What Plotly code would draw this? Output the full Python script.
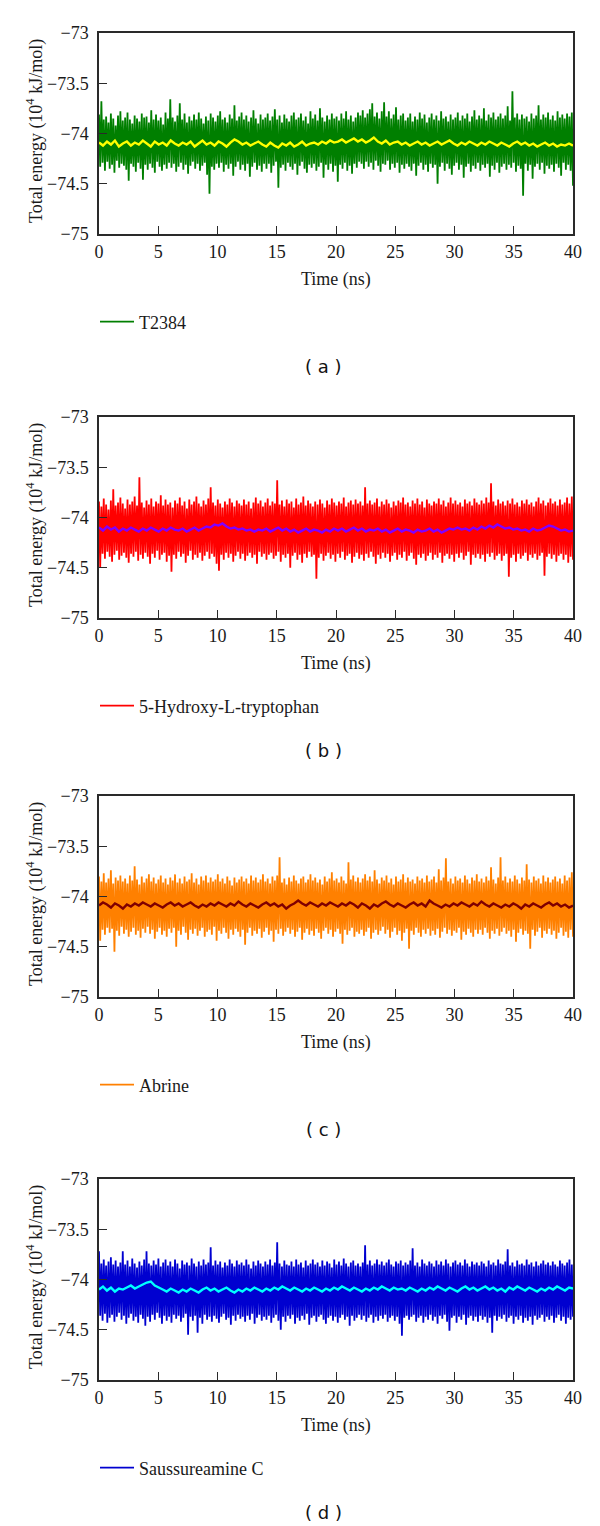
import numpy as np
import plotly.graph_objects as go

# ---------------- data (total energy, 10^4 kJ/mol) ----------------
panel_labels = ["( a )", "( b )", "( c )", "( d )"]
series_names = ["T2384", "5-Hydroxy-L-tryptophan", "Abrine", "Saussureamine C"]
raw_colors = ["#007f00", "#ff0000", "#ff8000", "#0000d0"]
mean_colors = ["#ffff00", "#8000ff", "#800000", "#00ffff"]

y_ticks = [-75, -74.5, -74, -73.5, -73]
y_ticktext = ["\u221275", "\u221274.5", "\u221274", "\u221273.5", "\u221273"]
x_ticks = [0, 5, 10, 15, 20, 25, 30, 35, 40]
x_ticktext = ["0", "5", "10", "15", "20", "25", "30", "35", "40"]

t2384_raw = [
    -73.81, -74.33, -73.68, -74.29, -73.86, -74.37, -73.83, -74.28, -73.89, -74.35, -73.80, -74.31, -73.85, -74.39, -73.92, -74.27, -73.82, -74.34, -73.78, -74.30,
    -73.87, -74.32, -73.84, -74.36, -73.79, -74.47, -73.86, -74.30, -73.90, -74.33, -73.82, -74.38, -73.85, -74.29, -73.88, -74.35, -73.80, -74.46, -73.84, -74.31,
    -73.83, -74.36, -73.89, -74.30, -73.77, -74.34, -73.86, -74.39, -73.81, -74.28, -73.87, -74.33, -73.84, -74.37, -73.91, -74.31, -73.79, -74.35, -73.85, -74.29,
    -73.66, -74.34, -73.84, -74.30, -73.88, -74.38, -73.82, -74.33, -73.70, -74.29, -73.86, -74.36, -73.80, -74.31, -73.89, -74.40, -73.83, -74.32, -73.87, -74.28,
    -73.81, -74.35, -73.86, -74.30, -73.79, -74.37, -73.85, -74.32, -73.90, -74.29, -73.83, -74.41, -73.87, -74.60, -73.80, -74.33, -73.84, -74.36, -73.88, -74.30,
    -73.82, -74.34, -73.78, -74.29, -73.86, -74.38, -73.84, -74.31, -73.89, -74.35, -73.81, -74.30, -73.85, -74.42, -73.72, -74.33, -73.87, -74.28, -73.83, -74.36,
    -73.79, -74.31, -73.86, -74.37, -73.82, -74.30, -73.88, -74.43, -73.84, -74.33, -73.77, -74.29, -73.85, -74.36, -73.90, -74.32, -73.81, -74.38, -73.86, -74.30,
    -73.84, -74.35, -73.80, -74.30, -73.87, -74.39, -73.83, -74.32, -73.76, -74.28, -73.86, -74.54, -73.82, -74.34, -73.89, -74.31, -73.81, -74.37, -73.85, -74.29,
    -73.88, -74.33, -73.82, -74.36, -73.79, -74.30, -73.86, -74.41, -73.84, -74.32, -73.80, -74.28, -73.87, -74.35, -73.83, -74.39, -73.90, -74.31, -73.78, -74.34,
    -73.85, -74.30, -73.81, -74.37, -73.87, -74.33, -73.75, -74.29, -73.84, -74.44, -73.88, -74.31, -73.82, -74.36, -73.86, -74.30, -73.80, -74.38, -73.85, -74.32,
    -73.83, -74.48, -73.87, -74.31, -73.80, -74.35, -73.85, -74.29, -73.78, -74.37, -73.86, -74.32, -73.82, -74.40, -73.88, -74.30, -73.84, -74.34, -73.79, -74.28,
    -73.82, -74.30, -73.77, -74.35, -73.84, -74.28, -73.80, -74.33, -73.76, -74.29, -73.70, -74.36, -73.83, -74.27, -73.79, -74.32, -73.85, -74.38, -73.78, -74.30,
    -73.69, -74.31, -73.83, -74.27, -73.78, -74.36, -73.85, -74.30, -73.81, -74.34, -73.74, -74.29, -73.86, -74.39, -73.82, -74.31, -73.80, -74.35, -73.87, -74.30,
    -73.84, -74.33, -73.80, -74.37, -73.88, -74.30, -73.83, -74.42, -73.86, -74.32, -73.79, -74.29, -73.85, -74.36, -73.81, -74.31, -73.89, -74.38, -73.84, -74.30,
    -73.80, -74.34, -73.86, -74.31, -73.82, -74.50, -73.87, -74.33, -73.78, -74.29, -73.85, -74.37, -73.83, -74.30, -73.88, -74.35, -73.81, -74.41, -73.86, -74.32,
    -73.84, -74.29, -73.79, -74.36, -73.87, -74.31, -73.82, -74.44, -73.85, -74.33, -73.80, -74.30, -73.88, -74.38, -73.83, -74.32, -73.77, -74.35, -73.86, -74.29,
    -73.82, -74.37, -73.85, -74.31, -73.75, -74.34, -73.87, -74.30, -73.81, -74.43, -73.84, -74.32, -73.79, -74.36, -73.86, -74.29, -73.83, -74.39, -73.80, -74.33,
    -73.85, -74.30, -73.82, -74.36, -73.73, -74.31, -73.87, -74.34, -73.58, -74.29, -73.84, -74.38, -73.80, -74.32, -73.86, -74.35, -73.81, -74.62, -73.85, -74.30,
    -73.83, -74.37, -73.88, -74.31, -73.80, -74.45, -73.85, -74.33, -73.82, -74.30, -73.72, -74.36, -73.86, -74.29, -73.81, -74.40, -73.84, -74.32, -73.79, -74.35,
    -73.86, -74.31, -73.82, -74.38, -73.87, -74.30, -73.78, -74.34, -73.84, -74.42, -73.81, -74.29, -73.85, -74.36, -73.80, -74.31, -73.83, -74.37, -73.79, -74.52,
]
t2384_avg = [
    -74.09, -74.12, -74.08, -74.11, -74.07, -74.13, -74.10, -74.08, -74.12, -74.09, -74.11, -74.07, -74.10, -74.13, -74.08, -74.11, -74.09, -74.12, -74.07, -74.10,
    -74.12, -74.09, -74.11, -74.08, -74.13, -74.10, -74.07, -74.11, -74.09, -74.12, -74.08, -74.10, -74.13, -74.09, -74.06, -74.08, -74.11, -74.09, -74.12, -74.10,
    -74.08, -74.11, -74.13, -74.09, -74.12, -74.14, -74.10, -74.12, -74.09, -74.13, -74.11, -74.08, -74.12, -74.10, -74.09, -74.11, -74.08, -74.10, -74.07, -74.09,
    -74.08, -74.06, -74.09, -74.07, -74.05, -74.08, -74.06, -74.09, -74.07, -74.04, -74.08, -74.10, -74.07, -74.11, -74.09, -74.08, -74.11, -74.09, -74.12, -74.10,
    -74.08, -74.11, -74.09, -74.12, -74.10, -74.08, -74.11, -74.09, -74.07, -74.10, -74.12, -74.09, -74.11, -74.08, -74.10, -74.12, -74.09, -74.11, -74.08, -74.10,
    -74.12, -74.09, -74.11, -74.13, -74.10, -74.08, -74.11, -74.09, -74.12, -74.10, -74.13, -74.11, -74.09, -74.12, -74.10, -74.13, -74.11, -74.12, -74.10, -74.12,
]

htp_raw = [
    -73.84, -74.50, -73.89, -74.36, -73.81, -74.41, -73.87, -74.34, -73.92, -74.39, -73.83, -74.44, -73.72, -74.37, -73.88, -74.33, -73.85, -74.42, -73.80, -74.38,
    -73.86, -74.35, -73.91, -74.40, -73.82, -74.45, -73.87, -74.36, -73.84, -74.39, -73.79, -74.34, -73.88, -74.43, -73.60, -74.37, -73.85, -74.41, -73.90, -74.35,
    -73.83, -74.39, -73.87, -74.46, -73.81, -74.36, -73.89, -74.40, -73.84, -74.33, -73.86, -74.42, -73.78, -74.37, -73.88, -74.35, -73.82, -74.44, -73.87, -74.38,
    -73.85, -74.54, -73.90, -74.37, -73.83, -74.41, -73.86, -74.34, -73.80, -74.39, -73.88, -74.36, -73.84, -74.45, -73.91, -74.38, -73.82, -74.33, -73.87, -74.42,
    -73.84, -74.37, -73.79, -74.40, -73.86, -74.35, -73.89, -74.43, -73.83, -74.38, -73.87, -74.34, -73.81, -74.41, -73.70, -74.36, -73.85, -74.39, -73.88, -74.46,
    -73.82, -74.53, -73.86, -74.37, -73.90, -74.42, -73.84, -74.35, -73.87, -74.40, -73.81, -74.36, -73.85, -74.44, -73.89, -74.38, -73.83, -74.34, -73.86, -74.41,
    -73.88, -74.36, -73.82, -74.43, -73.87, -74.38, -73.84, -74.35, -73.91, -74.40, -73.85, -74.37, -73.80, -74.46, -73.86, -74.34, -73.83, -74.39, -73.89, -74.36,
    -73.85, -74.42, -73.81, -74.37, -73.88, -74.35, -73.84, -74.41, -73.86, -74.38, -73.63, -74.34, -73.87, -74.44, -73.83, -74.37, -73.89, -74.40, -73.82, -74.36,
    -73.86, -74.50, -73.84, -74.38, -73.90, -74.35, -73.81, -74.42, -73.87, -74.37, -73.85, -74.45, -73.79, -74.36, -73.88, -74.40, -73.83, -74.34, -73.86, -74.39,
    -73.89, -74.37, -73.84, -74.61, -73.87, -74.40, -73.82, -74.36, -73.86, -74.43, -73.90, -74.38, -73.83, -74.35, -73.87, -74.41, -73.81, -74.37, -73.85, -74.44,
    -73.88, -74.36, -73.84, -74.40, -73.86, -74.34, -73.80, -74.42, -73.89, -74.38, -73.85, -74.36, -73.83, -74.45, -73.87, -74.39, -73.82, -74.35, -73.86, -74.41,
    -73.84, -74.37, -73.88, -74.43, -73.70, -74.36, -73.86, -74.40, -73.83, -74.34, -73.87, -74.39, -73.85, -74.46, -73.81, -74.37, -73.89, -74.41, -73.84, -74.35,
    -73.87, -74.40, -73.82, -74.36, -73.86, -74.44, -73.90, -74.38, -73.84, -74.35, -73.88, -74.42, -73.83, -74.37, -73.85, -74.40, -73.80, -74.34, -73.87, -74.43,
    -73.85, -74.38, -73.89, -74.35, -73.83, -74.41, -73.86, -74.47, -73.81, -74.37, -73.87, -74.40, -73.84, -74.36, -73.90, -74.43, -73.82, -74.38, -73.86, -74.35,
    -73.88, -74.42, -73.84, -74.37, -73.86, -74.40, -73.81, -74.35, -73.87, -74.45, -73.83, -74.38, -73.89, -74.36, -73.85, -74.41, -73.80, -74.37, -73.86, -74.44,
    -73.83, -74.36, -73.87, -74.40, -73.85, -74.35, -73.89, -74.42, -73.82, -74.38, -73.86, -74.34, -73.84, -74.47, -73.88, -74.37, -73.81, -74.40, -73.85, -74.36,
    -73.87, -74.41, -73.83, -74.37, -73.86, -74.44, -73.80, -74.36, -73.85, -74.39, -73.66, -74.35, -73.84, -74.42, -73.88, -74.38, -73.82, -74.36, -73.86, -74.43,
    -73.84, -74.38, -73.88, -74.36, -73.83, -74.59, -73.86, -74.40, -73.81, -74.37, -73.87, -74.44, -73.85, -74.36, -73.89, -74.41, -73.83, -74.38, -73.86, -74.35,
    -73.82, -74.43, -73.87, -74.37, -73.85, -74.40, -73.89, -74.36, -73.84, -74.42, -73.80, -74.38, -73.86, -74.35, -73.83, -74.58, -73.88, -74.39, -73.85, -74.36,
    -73.81, -74.41, -73.86, -74.37, -73.84, -74.44, -73.88, -74.38, -73.82, -74.36, -73.87, -74.42, -73.85, -74.37, -73.80, -74.45, -73.86, -74.39, -73.79, -74.42,
]
htp_avg = [
    -74.10, -74.13, -74.09, -74.12, -74.10, -74.14, -74.11, -74.13, -74.10, -74.12, -74.14, -74.11, -74.13, -74.10, -74.12, -74.14, -74.11, -74.13, -74.10, -74.12,
    -74.13, -74.11, -74.14, -74.12, -74.10, -74.13, -74.11, -74.09, -74.10, -74.07, -74.08, -74.06, -74.09, -74.11, -74.10, -74.12, -74.11, -74.13, -74.12, -74.14,
    -74.12, -74.13, -74.11, -74.14, -74.12, -74.10, -74.13, -74.11, -74.14, -74.12, -74.15, -74.13, -74.11, -74.14, -74.12, -74.13, -74.15, -74.12, -74.14, -74.11,
    -74.13, -74.11, -74.14, -74.12, -74.10, -74.13, -74.11, -74.14, -74.12, -74.13, -74.11, -74.14, -74.12, -74.15, -74.13, -74.11, -74.14, -74.12, -74.13, -74.15,
    -74.12, -74.14, -74.13, -74.11, -74.14, -74.12, -74.15, -74.13, -74.11, -74.12, -74.10, -74.12, -74.11, -74.13, -74.10, -74.12, -74.09, -74.11, -74.08, -74.10,
    -74.07, -74.09, -74.11, -74.10, -74.12, -74.11, -74.13, -74.12, -74.14, -74.11, -74.13, -74.12, -74.10, -74.08, -74.09, -74.11, -74.13, -74.12, -74.14, -74.13,
]

abrine_raw = [
    -73.80, -74.44, -73.85, -74.33, -73.77, -74.38, -73.86, -74.31, -73.82, -74.36, -73.74, -74.32, -73.87, -74.55, -73.81, -74.34, -73.84, -74.39, -73.79, -74.30,
    -73.85, -74.37, -73.82, -74.33, -73.87, -74.40, -73.79, -74.35, -73.84, -74.31, -73.70, -74.38, -73.83, -74.34, -73.88, -74.41, -73.80, -74.32, -73.86, -74.36,
    -73.82, -74.30, -73.78, -74.37, -73.85, -74.33, -73.81, -74.42, -73.87, -74.35, -73.83, -74.31, -73.79, -74.38, -73.86, -74.34, -73.82, -74.40, -73.88, -74.32,
    -73.81, -74.36, -73.84, -74.31, -73.78, -74.50, -73.86, -74.34, -73.82, -74.38, -73.87, -74.30, -73.80, -74.36, -73.85, -74.43, -73.83, -74.33, -73.77, -74.37,
    -73.86, -74.32, -73.82, -74.39, -73.88, -74.34, -73.80, -74.31, -73.84, -74.40, -73.79, -74.35, -73.86, -74.33, -73.81, -74.38, -73.85, -74.30, -73.83, -74.44,
    -73.78, -74.34, -73.85, -74.37, -73.82, -74.31, -73.87, -74.36, -73.80, -74.42, -73.84, -74.33, -73.89, -74.38, -73.81, -74.32, -73.86, -74.35, -73.83, -74.40,
    -73.80, -74.33, -73.85, -74.48, -73.82, -74.36, -73.87, -74.31, -73.79, -74.39, -73.84, -74.34, -73.81, -74.37, -73.86, -74.32, -73.83, -74.41, -73.78, -74.35,
    -73.85, -74.31, -73.82, -74.38, -73.87, -74.34, -73.80, -74.45, -73.84, -74.33, -73.79, -74.37, -73.61, -74.32, -73.86, -74.39, -73.82, -74.35, -73.88, -74.31,
    -73.81, -74.37, -73.85, -74.33, -73.79, -74.40, -73.84, -74.35, -73.87, -74.31, -73.82, -74.43, -73.80, -74.36, -73.86, -74.32, -73.83, -74.38, -73.78, -74.34,
    -73.84, -74.39, -73.81, -74.32, -73.86, -74.36, -73.83, -74.42, -73.88, -74.34, -73.80, -74.31, -73.85, -74.37, -73.82, -74.33, -73.76, -74.40, -73.84, -74.35,
    -73.82, -74.32, -73.86, -74.37, -73.80, -74.47, -73.84, -74.33, -73.87, -74.38, -73.66, -74.34, -73.83, -74.31, -73.79, -74.40, -73.85, -74.35, -73.81, -74.37,
    -73.86, -74.33, -73.82, -74.39, -73.78, -74.35, -73.84, -74.31, -73.80, -74.42, -73.85, -74.36, -73.74, -74.33, -73.83, -74.38, -73.87, -74.34, -73.81, -74.30,
    -73.84, -74.37, -73.79, -74.33, -73.86, -74.41, -73.82, -74.35, -73.88, -74.31, -73.80, -74.38, -73.85, -74.34, -73.83, -74.44, -73.78, -74.36, -73.86, -74.32,
    -73.81, -74.52, -73.85, -74.34, -73.83, -74.38, -73.87, -74.31, -73.80, -74.36, -73.84, -74.40, -73.82, -74.33, -73.86, -74.37, -73.79, -74.32, -73.85, -74.39,
    -73.83, -74.34, -73.80, -74.38, -73.86, -74.32, -73.73, -74.41, -73.84, -74.35, -73.81, -74.31, -73.62, -74.37, -73.85, -74.33, -73.82, -74.39, -73.87, -74.34,
    -73.80, -74.36, -73.84, -74.31, -73.82, -74.43, -73.86, -74.35, -73.79, -74.38, -73.83, -74.32, -73.87, -74.36, -73.81, -74.40, -73.84, -74.33, -73.78, -74.37,
    -73.85, -74.33, -73.82, -74.38, -73.86, -74.31, -73.80, -74.36, -73.84, -74.42, -73.71, -74.34, -73.83, -74.37, -73.87, -74.32, -73.81, -74.39, -73.61, -74.35,
    -73.84, -74.31, -73.80, -74.37, -73.86, -74.34, -73.82, -74.40, -73.85, -74.33, -73.79, -74.45, -73.83, -74.36, -73.87, -74.32, -73.81, -74.38, -73.84, -74.34,
    -73.68, -74.37, -73.83, -74.52, -73.86, -74.33, -73.80, -74.39, -73.84, -74.35, -73.82, -74.31, -73.87, -74.41, -73.79, -74.34, -73.85, -74.37, -73.81, -74.32,
    -73.86, -74.38, -73.83, -74.34, -73.80, -74.42, -73.85, -74.36, -73.82, -74.31, -73.87, -74.39, -73.79, -74.35, -73.84, -74.41, -73.81, -74.33, -73.76, -74.40,
]
abrine_avg = [
    -74.09, -74.06, -74.08, -74.11, -74.07, -74.09, -74.12, -74.08, -74.10, -74.07, -74.09, -74.06, -74.08, -74.10, -74.07, -74.09, -74.11, -74.08, -74.06, -74.09,
    -74.07, -74.10, -74.08, -74.06, -74.09, -74.11, -74.08, -74.10, -74.07, -74.09, -74.06, -74.08, -74.10, -74.07, -74.09, -74.05, -74.08, -74.10, -74.07, -74.09,
    -74.11, -74.08, -74.06, -74.09, -74.07, -74.10, -74.08, -74.12, -74.09, -74.07, -74.04, -74.07, -74.09, -74.06, -74.08, -74.10, -74.07, -74.09, -74.06, -74.08,
    -74.10, -74.07, -74.09, -74.06, -74.08, -74.11, -74.07, -74.09, -74.12, -74.08, -74.10, -74.07, -74.05, -74.08, -74.10, -74.07, -74.09, -74.11, -74.08, -74.06,
    -74.09, -74.07, -74.10, -74.04, -74.07, -74.09, -74.11, -74.08, -74.10, -74.07, -74.09, -74.06, -74.08, -74.10, -74.07, -74.09, -74.05, -74.08, -74.10, -74.07,
    -74.09, -74.11, -74.08, -74.10, -74.07, -74.09, -74.12, -74.08, -74.10, -74.07, -74.09, -74.11, -74.08, -74.06, -74.09, -74.07, -74.10, -74.08, -74.11, -74.09,
]

saussureamine_raw = [
    -73.72, -74.36, -73.84, -74.41, -73.80, -74.34, -73.86, -74.43, -73.82, -74.38, -73.78, -74.35, -73.85, -74.42, -73.81, -74.37, -73.87, -74.33, -73.83, -74.40,
    -73.72, -74.36, -73.85, -74.44, -73.81, -74.38, -73.87, -74.34, -73.79, -74.41, -73.84, -74.37, -73.88, -74.43, -73.82, -74.35, -73.86, -74.39, -73.80, -74.46,
    -73.72, -74.37, -73.84, -74.42, -73.86, -74.35, -73.81, -74.40, -73.85, -74.33, -73.79, -74.38, -73.87, -74.44, -73.83, -74.36, -73.80, -74.41, -73.86, -74.37,
    -73.82, -74.43, -73.87, -74.35, -73.80, -74.39, -73.84, -74.36, -73.89, -74.42, -73.81, -74.38, -73.85, -74.34, -73.83, -74.55, -73.86, -74.37, -73.79, -74.41,
    -73.84, -74.36, -73.87, -74.53, -73.82, -74.38, -73.86, -74.44, -73.80, -74.35, -73.85, -74.40, -73.83, -74.37, -73.68, -74.42, -73.86, -74.36, -73.81, -74.39,
    -73.85, -74.43, -73.82, -74.37, -73.88, -74.34, -73.83, -74.40, -73.86, -74.38, -73.80, -74.45, -73.84, -74.36, -73.87, -74.41, -73.81, -74.35, -73.85, -74.39,
    -73.83, -74.37, -73.86, -74.42, -73.80, -74.36, -73.85, -74.40, -73.89, -74.34, -73.82, -74.44, -73.86, -74.38, -73.81, -74.35, -73.84, -74.41, -73.87, -74.37,
    -73.82, -74.40, -73.85, -74.36, -73.80, -74.43, -73.86, -74.38, -73.83, -74.35, -73.63, -74.41, -73.84, -74.50, -73.87, -74.37, -73.81, -74.42, -73.85, -74.36,
    -73.86, -74.39, -73.82, -74.35, -73.87, -74.44, -73.80, -74.38, -73.85, -74.41, -73.83, -74.36, -73.88, -74.40, -73.81, -74.34, -73.86, -74.45, -73.84, -74.38,
    -73.80, -74.36, -73.85, -74.42, -73.83, -74.37, -73.87, -74.35, -73.81, -74.40, -73.86, -74.44, -73.82, -74.38, -73.84, -74.36, -73.88, -74.41, -73.80, -74.37,
    -73.85, -74.43, -73.82, -74.38, -73.86, -74.35, -73.79, -74.40, -73.84, -74.37, -73.87, -74.46, -73.83, -74.36, -73.81, -74.41, -73.86, -74.38, -73.84, -74.35,
    -73.87, -74.40, -73.83, -74.36, -73.66, -74.42, -73.85, -74.38, -73.81, -74.35, -73.86, -74.43, -73.84, -74.37, -73.80, -74.41, -73.85, -74.36, -73.82, -74.39,
    -73.86, -74.35, -73.83, -74.42, -73.80, -74.38, -73.85, -74.36, -73.87, -74.41, -73.82, -74.37, -73.84, -74.44, -73.81, -74.56, -73.86, -74.38, -73.83, -74.36,
    -73.85, -74.40, -73.81, -74.37, -73.69, -74.35, -73.86, -74.42, -73.83, -74.38, -73.87, -74.36, -73.80, -74.43, -73.84, -74.37, -73.86, -74.40, -73.82, -74.35,
    -73.84, -74.41, -73.87, -74.37, -73.81, -74.44, -73.85, -74.36, -73.82, -74.39, -73.86, -74.35, -73.80, -74.42, -73.84, -74.51, -73.87, -74.38, -73.83, -74.36,
    -73.81, -74.43, -73.85, -74.37, -73.83, -74.40, -73.86, -74.35, -73.80, -74.45, -73.84, -74.38, -73.87, -74.36, -73.82, -74.41, -73.85, -74.37, -73.83, -74.42,
    -73.86, -74.36, -73.82, -74.40, -73.84, -74.37, -73.87, -74.43, -73.81, -74.38, -73.85, -74.53, -73.83, -74.36, -73.86, -74.41, -73.80, -74.37, -73.84, -74.39,
    -73.85, -74.35, -73.82, -74.42, -73.70, -74.38, -73.86, -74.36, -73.83, -74.44, -73.87, -74.37, -73.81, -74.40, -73.85, -74.36, -73.84, -74.43, -73.86, -74.38,
    -73.80, -74.41, -73.85, -74.37, -73.83, -74.45, -73.87, -74.36, -73.82, -74.40, -73.86, -74.38, -73.84, -74.35, -73.81, -74.42, -73.85, -74.37, -73.83, -74.40,
    -73.86, -74.36, -73.82, -74.43, -73.85, -74.38, -73.87, -74.35, -73.81, -74.41, -73.84, -74.37, -73.86, -74.44, -73.83, -74.38, -73.80, -74.40, -73.85, -74.37,
]
saussureamine_avg = [
    -74.10, -74.07, -74.11, -74.08, -74.12, -74.09, -74.10, -74.08, -74.06, -74.09, -74.07, -74.05, -74.03, -74.02, -74.06, -74.08, -74.10, -74.12, -74.09, -74.11,
    -74.13, -74.10, -74.12, -74.09, -74.11, -74.13, -74.10, -74.08, -74.11, -74.09, -74.12, -74.10, -74.08, -74.11, -74.13, -74.10, -74.12, -74.09, -74.11, -74.08,
    -74.10, -74.12, -74.09, -74.11, -74.08, -74.10, -74.07, -74.09, -74.11, -74.08, -74.10, -74.12, -74.09, -74.11, -74.08, -74.10, -74.12, -74.09, -74.11, -74.08,
    -74.10, -74.07, -74.09, -74.11, -74.08, -74.10, -74.12, -74.09, -74.11, -74.08, -74.10, -74.07, -74.09, -74.11, -74.08, -74.10, -74.09, -74.11, -74.08, -74.10,
    -74.12, -74.09, -74.11, -74.08, -74.10, -74.07, -74.09, -74.11, -74.08, -74.10, -74.12, -74.09, -74.07, -74.10, -74.08, -74.11, -74.09, -74.07, -74.10, -74.08,
    -74.11, -74.09, -74.12, -74.08, -74.10, -74.07, -74.09, -74.11, -74.08, -74.10, -74.12, -74.09, -74.11, -74.08, -74.10, -74.07, -74.09, -74.11, -74.08, -74.09,
]

raw_series = [t2384_raw, htp_raw, abrine_raw, saussureamine_raw]
avg_series = [t2384_avg, htp_avg, abrine_avg, saussureamine_avg]

# ---------------- layout geometry (screen pixels) ----------------
W, H = 600, 1526
PAGE_OFFSET = 8          # default body margin of the written html page
plot_left, plot_right = 99, 573
panel_tops = [33, 417, 796, 1179]
plot_h = 201

SERIF = "Liberation Serif, Times New Roman, serif"
TXT = "#1a1a1a"

def py(px):
    return 1 - (px - PAGE_OFFSET) / H

def pxx(px):
    return (px - PAGE_OFFSET) / W

fig = go.Figure()
annotations = []
layout_axes = {}

for k in range(4):
    suffix = "" if k == 0 else str(k + 1)
    xa, ya = "x" + suffix, "y" + suffix
    raw = raw_series[k]
    avg = avg_series[k]
    t_raw = np.linspace(0, 40, len(raw))
    t_avg = np.linspace(0, 40, len(avg))
    leg = "legend" if k == 0 else "legend" + str(k + 1)

    fig.add_trace(go.Scatter(
        x=t_raw, y=raw, mode="lines", name=series_names[k],
        line=dict(color=raw_colors[k], width=1.8, simplify=False),
        xaxis=xa, yaxis=ya, legend=leg, showlegend=True,
    ))
    fig.add_trace(go.Scatter(
        x=t_avg, y=avg, mode="lines", name=series_names[k] + " (avg)",
        line=dict(color=mean_colors[k], width=2.4, simplify=False),
        xaxis=xa, yaxis=ya, showlegend=False,
    ))

    top = panel_tops[k]
    axis_common = dict(
        showline=True, linecolor="#2a2a2a", linewidth=1.5, mirror=True,
        ticks="inside", ticklen=8, tickwidth=1.3, tickcolor="#2a2a2a",
        showgrid=False, zeroline=False, automargin=False,
        tickfont=dict(family=SERIF, size=18, color=TXT),
    )
    layout_axes["xaxis" + suffix] = dict(
        axis_common, domain=[pxx(plot_left), pxx(plot_right)], anchor=ya,
        range=[0, 40], tickvals=x_ticks, ticktext=x_ticktext,
        ticklabelstandoff=1,
    )
    layout_axes["yaxis" + suffix] = dict(
        axis_common, domain=[py(top + plot_h), py(top)], anchor=xa,
        range=[-75, -73], tickvals=y_ticks, ticktext=y_ticktext,
        ticklabelstandoff=5,
    )

    # legend for this panel
    layout_axes[leg] = dict(
        x=pxx(plot_left - 4), xanchor="left",
        y=py(top + 289), yanchor="middle",
        bgcolor="rgba(0,0,0,0)", borderwidth=0,
        font=dict(family=SERIF, size=18, color=TXT),
        itemwidth=34,
    )

    # x-axis title
    annotations.append(dict(
        text="Time (ns)", x=pxx((plot_left + plot_right) / 2), y=py(top + 246),
        xref="paper", yref="paper", xanchor="center", yanchor="middle",
        showarrow=False, font=dict(family=SERIF, size=18, color=TXT),
    ))
    # y-axis title
    annotations.append(dict(
        text="Total energy (10<sup>4</sup> kJ/mol)", x=pxx(35), y=py(top + 98),
        xref="paper", yref="paper", xanchor="center", yanchor="middle",
        textangle=-90, showarrow=False,
        font=dict(family=SERIF, size=18, color=TXT),
    ))
    # panel label
    annotations.append(dict(
        text=panel_labels[k], x=pxx(323), y=py(top + 333),
        xref="paper", yref="paper", xanchor="center", yanchor="middle",
        showarrow=False,
        font=dict(family="DejaVu Sans, Verdana, sans-serif", size=18, color="#111"),
    ))

fig.update_layout(
    template="none",
    width=W, height=H,
    margin=dict(l=0, r=0, t=0, b=0),
    paper_bgcolor="white", plot_bgcolor="white",
    annotations=annotations,
    **layout_axes,
)

fig.write_html("out.html")
